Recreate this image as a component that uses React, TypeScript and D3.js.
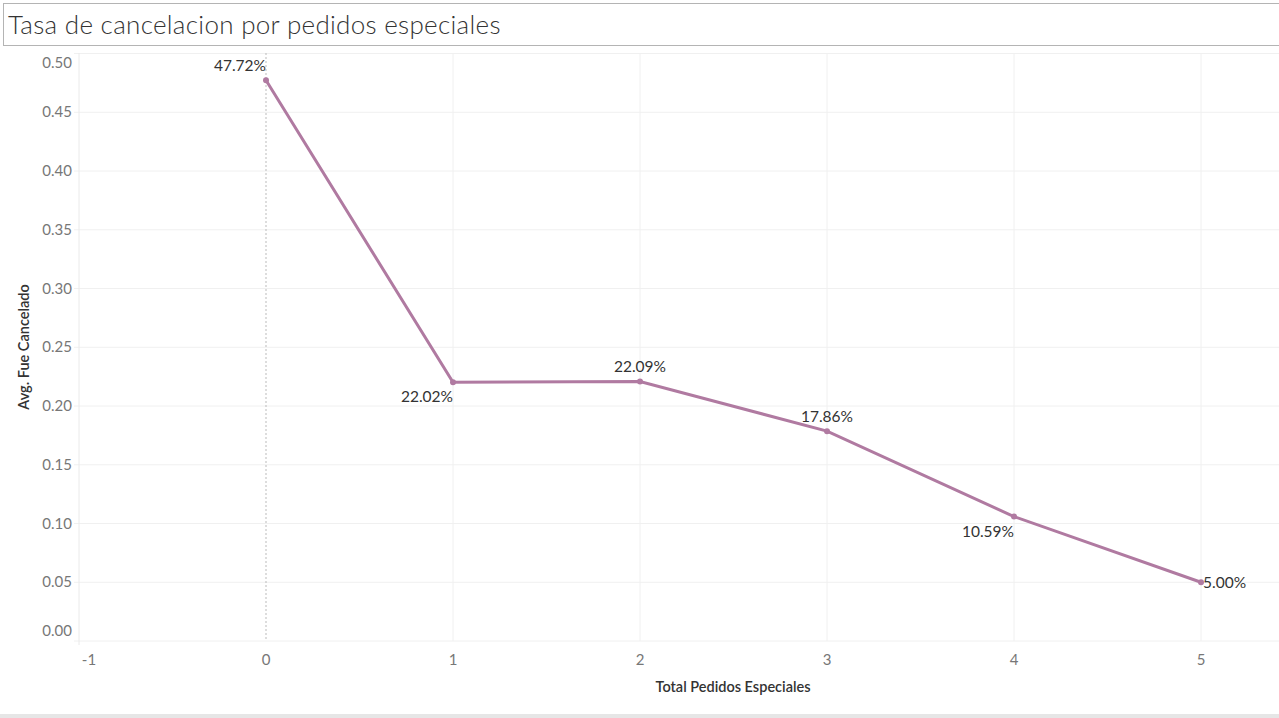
import * as d3 from "d3"

const xValues = [0, 1, 2, 3, 4, 5]
const yValues = [0.4772, 0.2202, 0.2209, 0.1786, 0.1059, 0.05]
const labels = ["47.72%", "22.02%", "22.09%", "17.86%", "10.59%", "5.00%"]
const labelPos = ["above", "below", "above", "above", "below", "right"]
const xTicks = [-1, 0, 1, 2, 3, 4, 5]
const yTicks = [0, 0.05, 0.1, 0.15, 0.2, 0.25, 0.3, 0.35, 0.4, 0.45, 0.5]

const W = 1279
const H = 718
const font = "Lato, 'Open Sans', sans-serif"
const color = "#b07aa1"

export default function App() {
  const x = d3.scaleLinear().domain([-1, 5]).range([79, 1201])
  const y = d3.scaleLinear().domain([0, 0.5]).range([641, 53.5])
  const pts = xValues.map((v, i) => [x(v), y(yValues[i])] as [number, number])
  const line = d3.line()(pts) || ""

  return (
    <svg width={W} height={H} style={{ position: "absolute", left: 0, top: 0, background: "#fff", fontFamily: font }}>
      <rect x={3.5} y={3.5} width={1290} height={42} fill="#fff" stroke="#b4b4b4" />
      <text x={8} y={34} fontSize={26} fontWeight={300} fill="#333" letterSpacing={0.3}>Tasa de cancelacion por pedidos especiales</text>

      {yTicks.map((t) => (
        <g key={t}>
          <line x1={74} x2={W} y1={y(t)} y2={y(t)} stroke="#f0f0f0" />
          <text x={72} y={t === 0.5 ? y(t) + 14 : t === 0 ? y(t) - 5 : y(t) + 5} textAnchor="end" fontSize={15} fill="#777">
            {t.toFixed(2)}
          </text>
        </g>
      ))}
      {xTicks.map((t) => (
        <g key={t}>
          {t > -1 && t !== 0 && <line x1={x(t)} x2={x(t)} y1={53} y2={641} stroke="#f0f0f0" />}
          <text x={t === -1 ? x(t) + 10 : x(t)} y={665} textAnchor="middle" fontSize={15} fill="#777">{t}</text>
        </g>
      ))}
      <line x1={79} x2={79} y1={53} y2={645} stroke="#eaeaea" />
      <line x1={x(0)} x2={x(0)} y1={53} y2={641} stroke="#bbb" strokeDasharray="2,2" />

      <path d={line} fill="none" stroke={color} strokeWidth={3} />
      {pts.map(([px, py], i) => (
        <g key={i}>
          <circle cx={px} cy={py} r={3} fill={color} />
          <text
            x={labelPos[i] === "right" ? px + 2 : px}
            y={labelPos[i] === "above" ? py - 9 : labelPos[i] === "below" ? py + 20 : py + 6}
            textAnchor={labelPos[i] === "right" ? "start" : i === 0 || labelPos[i] === "below" ? "end" : "middle"}
            fontSize={15.5}
            fill="#333"
          >
            {labels[i]}
          </text>
        </g>
      ))}

      <text transform="translate(29,347) rotate(-90)" textAnchor="middle" fontSize={14.5} fontWeight={600} fill="#333">Avg. Fue Cancelado</text>
      <text x={733} y={692} textAnchor="middle" fontSize={14.5} fontWeight={600} fill="#333">Total Pedidos Especiales</text>
      <rect x={0} y={714} width={W} height={4} fill="#e6e6e6" />
    </svg>
  )
}
